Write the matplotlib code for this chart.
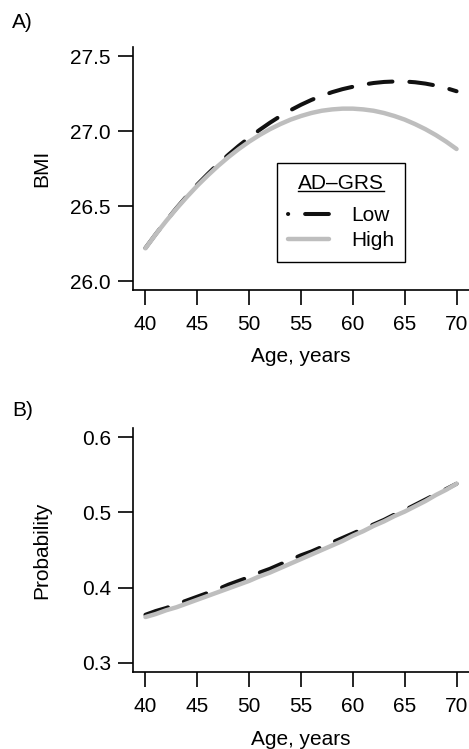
import matplotlib
matplotlib.use("Agg")
import matplotlib.pyplot as plt
from matplotlib.lines import Line2D

plt.rcParams['font.family'] = ['Liberation Sans', 'DejaVu Sans']

# ---- data ----
age = list(range(40, 71))
bmi_low = [26.220, 26.313, 26.402, 26.487, 26.567, 26.643, 26.713, 26.780, 26.842, 26.901,
           26.955, 27.007, 27.055, 27.099, 27.139, 27.175, 27.207, 27.235, 27.259, 27.279,
           27.295, 27.309, 27.320, 27.327, 27.330, 27.330, 27.325, 27.316, 27.303, 27.286, 27.265]
bmi_high = [26.218, 26.312, 26.400, 26.483, 26.561, 26.635, 26.703, 26.767, 26.826, 26.880,
            26.929, 26.973, 27.012, 27.046, 27.076, 27.100, 27.120, 27.135, 27.144, 27.149,
            27.149, 27.144, 27.135, 27.120, 27.100, 27.076, 27.046, 27.012, 26.973, 26.929, 26.880]
prob_low = [0.364, 0.369, 0.373, 0.378, 0.383, 0.388, 0.393, 0.398, 0.404, 0.409,
            0.414, 0.420, 0.425, 0.431, 0.437, 0.443, 0.448, 0.454, 0.460, 0.466,
            0.472, 0.478, 0.484, 0.490, 0.497, 0.503, 0.510, 0.517, 0.524, 0.531, 0.538]
prob_high = [0.361, 0.365, 0.370, 0.374, 0.379, 0.384, 0.389, 0.394, 0.399, 0.404,
             0.409, 0.415, 0.420, 0.426, 0.432, 0.438, 0.444, 0.450, 0.456, 0.462,
             0.469, 0.475, 0.482, 0.488, 0.495, 0.501, 0.508, 0.515, 0.523, 0.530, 0.538]
xticks = [40, 45, 50, 55, 60, 65, 70]
yticksA = [26.0, 26.5, 27.0, 27.5]
yticksB = [0.3, 0.4, 0.5, 0.6]
legend_title = 'AD\u2013GRS'
series_names = ['Low', 'High']

FS = 15
BLACK = '#111111'
GRAY = '#bebebe'
LW_B = 2.9
LW_G = 3.2
DASH = (5.9, 4.2)

fig = plt.figure(figsize=(4.69, 7.49), dpi=100)
W, H = 469, 749
axA = fig.add_axes([133 / W, 1 - 290 / H, 336 / W, 243 / H])
axB = fig.add_axes([133 / W, 1 - 672 / H, 336 / W, 244 / H])


def style(ax, yticks, ylim, ylabel, fmt):
    ax.set_xlim(38.8, 71.2)
    ax.set_ylim(*ylim)
    for s in ['top', 'right']:
        ax.spines[s].set_visible(False)
    for s in ['left', 'bottom']:
        ax.spines[s].set_linewidth(1.2)
        ax.spines[s].set_color('black')
    ax.set_xticks(xticks)
    ax.set_yticks(yticks)
    ax.set_yticklabels([fmt.format(v) for v in yticks])
    ax.tick_params(axis='both', direction='out', length=11, width=1.2,
                   labelsize=FS, colors='black')
    ax.tick_params(axis='x', pad=7)
    ax.tick_params(axis='y', pad=5)
    ax.set_xlabel('Age, years', fontsize=FS, va='center')
    ax.set_ylabel(ylabel, fontsize=FS, va='center')
    ax.xaxis.set_label_coords(0.5, -0.275)
    ax.yaxis.set_label_coords(-0.271, 0.5)


style(axA, yticksA, (25.94, 27.56), 'BMI', '{:.1f}')
style(axB, yticksB, (0.288, 0.612), 'Probability', '{:.1f}')

for ax, lo, hi in [(axA, bmi_low, bmi_high), (axB, prob_low, prob_high)]:
    ax.plot(age, lo, color=BLACK, lw=LW_B, linestyle=(0, DASH),
            dash_capstyle='round', solid_capstyle='round')
    ax.plot(age, hi, color=GRAY, lw=LW_G, solid_capstyle='round')

handles = [
    Line2D([], [], color=BLACK, lw=LW_B, linestyle=(DASH[0] - 0.05, DASH),
           dash_capstyle='round'),
    Line2D([], [], color=GRAY, lw=LW_G, solid_capstyle='round'),
]
leg = axA.legend(handles, series_names, title=legend_title, loc='upper left',
                 bbox_to_anchor=(0.4286, 0.5226), borderaxespad=0,
                 frameon=True, fancybox=False, edgecolor='black', framealpha=1,
                 handlelength=1.95, handletextpad=1.04, borderpad=0.55,
                 labelspacing=0.31, fontsize=FS, title_fontsize=FS)
leg.get_frame().set_linewidth(1.0)
leg._legend_box.sep = 0.31 * FS + 4.3

fig.text(12 / W, 1 - 23 / H, 'A)', ha='left', va='center', fontsize=FS)
fig.text(12 / W, 1 - 410 / H, 'B)', ha='left', va='center', fontsize=FS)

# underline legend title
fig.canvas.draw()
r = fig.canvas.get_renderer()
bb = leg.get_title().get_window_extent(r)
inv = fig.transFigure.inverted()
(x0, y0), (x1, _) = inv.transform([(bb.x0, bb.y0 + 2), (bb.x1, bb.y0 + 2)])
fig.add_artist(Line2D([x0, x1], [y0, y0], color='black', lw=1.0,
                      transform=fig.transFigure))

fig.savefig('out.png', dpi=100)
